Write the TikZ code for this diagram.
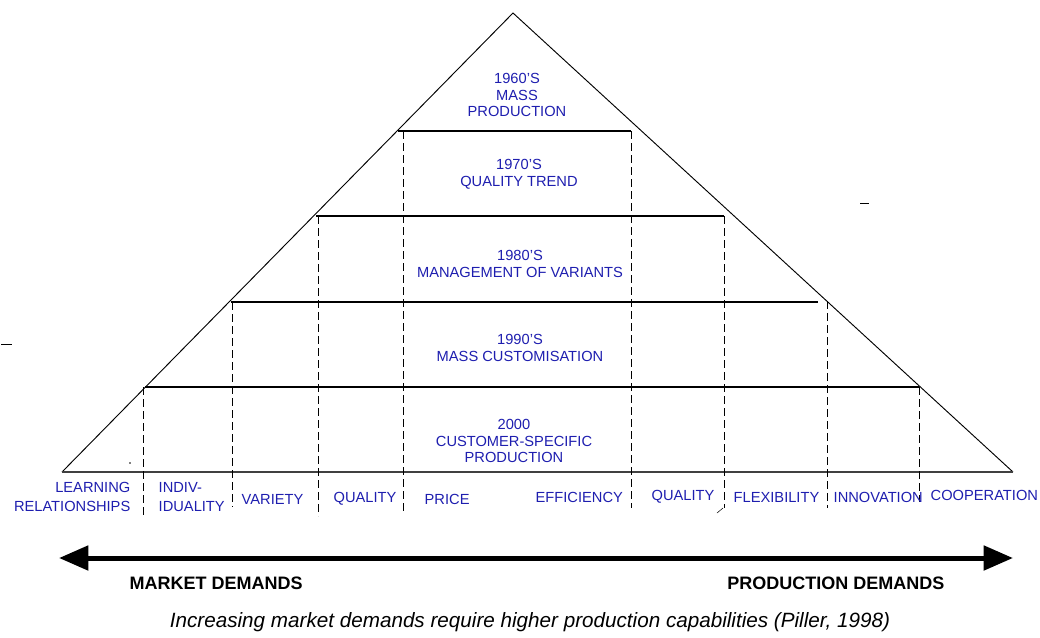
\documentclass[tikz,border=0pt]{standalone}
\usepackage{fontspec}
\setmainfont{Liberation Sans}
\usetikzlibrary{arrows.meta}
\definecolor{eraBlue}{RGB}{30,30,175}
\tikzset{
  side/.style={black, line width=0.7pt},
  level/.style={black, line width=0.9pt},
  divider/.style={black, line width=0.6pt, dash pattern=on 6pt off 3pt},
  era/.style={eraBlue, align=center, font=\fontsize{11}{12.5}\selectfont},
  demand/.style={eraBlue, font=\fontsize{11}{14}\selectfont},
  axislabel/.style={black, font=\bfseries\fontsize{13.5}{16}\selectfont},
}
\begin{document}
\begin{tikzpicture}[x=0.75pt, y=-0.75pt]
    \useasboundingbox (0,0) rectangle (1040,637);
    \coordinate (apex) at (513,13);
    \coordinate (baseL) at (62,472);
    \coordinate (baseR) at (1013,472);
    \draw[side] (baseL) -- (apex) -- (baseR);
    \draw[black!75, line width=1.5pt] (baseL) -- (baseR);
    \foreach \l/\r/\y in {398/631/131, 316/724/216, 231/818/302, 145/919/387}
        \draw[level] (\l,\y) -- (\r,\y);
    \foreach \x/\t/\b in {143/387/516, 232/302/507, 318/216/516, 403/131/511,
                          631/131/508, 724/216/508, 827/301/508, 919/387/502}
        \draw[divider] (\x,\t) -- (\x,\b);
    \node[era] (e1960) at (517,95) {1960'S\\MASS\\PRODUCTION};
    \node[era] (e1970) at (519,174) {1970'S\\QUALITY TREND};
    \node[era] (e1980) at (520,264) {1980'S\\MANAGEMENT OF VARIANTS};
    \node[era] (e1990) at (520,348) {1990'S\\MASS CUSTOMISATION};
    \node[era] (e2000) at (514,441) {2000\\CUSTOMER-SPECIFIC\\PRODUCTION};
    \node[demand, align=right, anchor=east] (learning) at (135,497) {LEARNING\\RELATIONSHIPS};
    \node[demand, align=left, anchor=west] (indiv) at (154,497) {INDIV-\\IDUALITY};
    \node[demand, anchor=west] (variety) at (237,499) {VARIETY};
    \node[demand, anchor=west] (qualityL) at (329,499) {QUALITY};
    \node[demand, anchor=west] (price) at (420,499) {PRICE};
    \node[demand, anchor=west] (efficiency) at (531,497) {EFFICIENCY};
    \node[demand, anchor=west] (qualityR) at (647,497) {QUALITY};
    \node[demand, anchor=west] (flexibility) at (729,497) {FLEXIBILITY};
    \node[demand, anchor=west] (innovation) at (829,497) {INNOVATION};
    \node[demand, anchor=west] (cooperation) at (926,495) {COOPERATION};
    \coordinate (mktEnd) at (59,558);
    \coordinate (prodEnd) at (1013,558);
    \draw[{Triangle[length=22pt,width=18pt]}-{Triangle[length=22pt,width=18pt]}, line width=3.75pt] (mktEnd) -- (prodEnd);
    \node[axislabel, anchor=west] (market) at (125,583) {MARKET DEMANDS};
    \node[axislabel, anchor=east] (production) at (949,583) {PRODUCTION DEMANDS};
    \node[font=\itshape\fontsize{15.5}{18}\selectfont] (caption) at (530,622) {Increasing market demands require higher production capabilities (Piller, 1998)};
    \draw[black, thin] (860,203) -- (869,203);
    \draw[black, thin] (1,344) -- (12,344);
    \fill[black] (130,463) circle (0.8);
    \draw[black, thin] (717,513) -- (723,508);
\end{tikzpicture}
\end{document}
